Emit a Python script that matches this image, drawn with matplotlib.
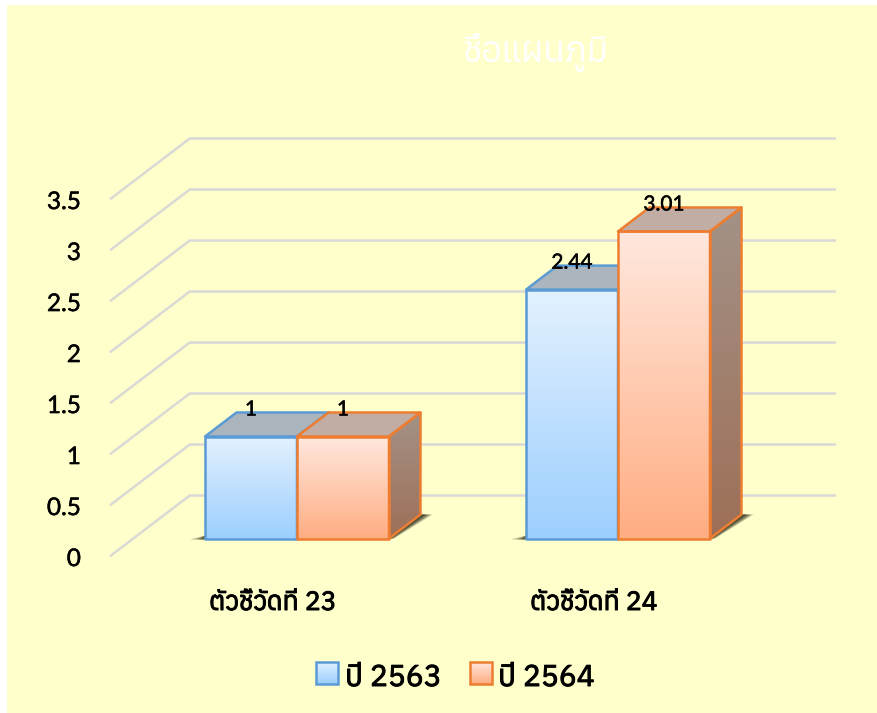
import numpy as np
import matplotlib
matplotlib.use('Agg')
import matplotlib.pyplot as plt
import matplotlib.patheffects as pe
from matplotlib import font_manager as fm
from matplotlib.colors import LinearSegmentedColormap
from matplotlib.patches import Polygon, Rectangle

# chart data
categories = ['ตัวชี้วัดที่ 23', 'ตัวชี้วัดที่ 24']
series_names = ['ปี 2563', 'ปี 2564']
values_2563 = [1, 2.44]
values_2564 = [1, 3.01]
value_ticks = [0, 0.5, 1, 1.5, 2, 2.5, 3, 3.5]
tick_labels = ['0', '0.5', '1', '1.5', '2', '2.5', '3', '3.5']
title_text = 'ชื่อแผนภูมิ'

W, H = 877, 713
PX_CAT = 321.0   # pixels per category
PX_VAL = 102.0   # pixels per unit of value
X0, Y0 = 297.0, 538.5  # pixel of first cluster centre / value 0
BAR_W = 92 / PX_CAT
DX, DY = 31.5 / PX_CAT, 24 / PX_VAL  # one unit of depth

# look for a font which has thai glyphs
thai_fonts = []
for f in fm.fontManager.ttflist:
    try:
        if 0x0E15 in fm.get_font(f.fname).get_charmap():
            thai_fonts.append(f.name)
    except Exception:
        pass
thai_fonts = sorted(set(thai_fonts))
plt.rcParams['font.family'] = thai_fonts[:1] + ['Lato', 'DejaVu Sans']

fig = plt.figure(figsize=(W / 100, H / 100), dpi=100, facecolor='white')
ax = fig.add_axes([0, 0, 1, 1])
ax.set_xlim(-X0 / PX_CAT, (W - X0) / PX_CAT)
ax.set_ylim((Y0 - H) / PX_VAL, Y0 / PX_VAL)
ax.axis('off')

# thicker strokes, the installed fonts have no bold for thai
heavy = [pe.withStroke(linewidth=0.7, foreground='black')]
light_heavy = [pe.withStroke(linewidth=0.35, foreground='black')]


def proj(c, v, d=0.0):
    return c + d * DX, v + d * DY


def px(x, y):
    # figure pixel (from top left) to data, only for chart furniture
    return (x - X0) / PX_CAT, (Y0 - y) / PX_VAL


def gradient_fill(points, top, bottom, zorder):
    cmap = LinearSegmentedColormap.from_list('g', [bottom, top])
    xs = [p[0] for p in points]
    ys = [p[1] for p in points]
    im = ax.imshow(np.linspace(0, 1, 128).reshape(-1, 1), cmap=cmap, origin='lower', aspect='auto',
                   extent=[min(xs), max(xs), min(ys), max(ys)], zorder=zorder, interpolation='bilinear')
    clip = Polygon(points, closed=True, transform=ax.transData, facecolor='none', edgecolor='none')
    im.set_clip_path(clip)


def draw_bar(left, value, edge, front_top, front_bottom, top_col, side_top, side_bottom, z):
    right = left + BAR_W
    # shadow on the floor
    for grow, alpha in [(1.0, 0.3), (0.8, 0.4), (0.6, 0.5), (0.4, 0.6)]:
        ax.add_patch(Polygon([proj(right, 0), proj(right, 0, 1), proj(right + grow * 12 / PX_CAT, 0, 1),
                              proj(right + grow * 5 / PX_CAT, 0)],
                             facecolor='#3f3f28', edgecolor='none', alpha=alpha, zorder=z))
    gradient_fill([(left, 0), (right, 0), (right, value), (left, value)], front_top, front_bottom, z + 0.1)
    side = [proj(right, 0), proj(right, 0, 1), proj(right, value, 1), proj(right, value)]
    gradient_fill(side, side_top, side_bottom, z + 0.1)
    top = [proj(left, value), proj(right, value), proj(right, value, 1), proj(left, value, 1)]
    ax.add_patch(Polygon(top, facecolor=top_col, edgecolor=edge, lw=1.8, joinstyle='round', zorder=z + 0.2))
    ax.add_patch(Polygon(side, facecolor='none', edgecolor=edge, lw=1.8, joinstyle='round', zorder=z + 0.2))
    ax.add_patch(Polygon([(left, 0), (right, 0), (right, value), (left, value)], facecolor='none',
                         edgecolor=edge, lw=1.8, joinstyle='round', zorder=z + 0.3))


# yellow chart area
x1, y1 = px(7, 5)
x2, y2 = px(877, 713)
ax.add_patch(Rectangle((x1, y2), x2 - x1, y1 - y2, facecolor='#FFFFCC', edgecolor='none', zorder=0))

ax.text(*px(536, 52), title_text, color='white', fontsize=25.5, ha='center', va='center',
        family=thai_fonts[:1] + ['Liberation Serif'], zorder=1)

# walls with gridlines and value axis labels
for v, lab in zip(value_ticks, tick_labels):
    gx = [proj(-0.51, v, -0.71)[0], proj(-0.51, v, 1.79)[0], proj(1.5, v, 1.79)[0]]
    gy = [proj(-0.51, v, -0.71)[1], proj(-0.51, v, 1.79)[1], proj(1.5, v, 1.79)[1]]
    ax.plot(gx, gy, color='#D9D9D5', lw=1.8, zorder=1, solid_joinstyle='miter')
    ax.annotate(lab, xy=(gx[0], gy[0]), xytext=(-30, -4), textcoords='offset pixels', ha='right', va='center',
                fontsize=17.5, family='Lato', color='black', zorder=5, path_effects=light_heavy)

blue = ('#5B9BD5', '#E3F1FF', '#9CCFFE', '#AAB5BE', '#A9B4BD', '#8FA5B5')
orange = ('#ED7D31', '#FFE8DE', '#FFAD82', '#C1ADA3', '#A39287', '#9E6F57')

z = 2
for i, name in enumerate(categories):
    for j, (vals, style) in enumerate(((values_2563, blue), (values_2564, orange))):
        left = i - BAR_W + j * BAR_W
        draw_bar(left, vals[i], *style, z)
        z += 1
    # shadow to the left of the cluster
    for grow, alpha in [(15, 0.35), (9, 0.45), (5, 0.5)]:
        ax.add_patch(Polygon([(i - BAR_W, -1 / PX_VAL), (i - BAR_W, 3 / PX_VAL), (i - BAR_W - grow / PX_CAT, -1 / PX_VAL)],
                             facecolor='#3f3f28', edgecolor='none', alpha=alpha, zorder=1.5))
    ax.text(i - 24 / PX_CAT, -64 / PX_VAL, name, ha='center', va='center', fontsize=19, zorder=20, path_effects=heavy)

# data labels sit above the middle of every bar
for i in range(len(categories)):
    for j, vals in enumerate((values_2563, values_2564)):
        cx = i - BAR_W + j * BAR_W + BAR_W / 2
        ax.annotate(f'{vals[i]:g}', xy=(cx, vals[i]), xytext=(0, 27), textcoords='offset pixels',
                    ha='center', va='center', fontsize=15, family='Lato', color='black', zorder=30,
                    path_effects=light_heavy)

# legend
for name, style, sx, tx in zip(series_names, (blue, orange), (316, 470), (345, 498)):
    a = px(sx, 684)
    b = px(sx + 22, 662)
    corners = [a, (b[0], a[1]), b, (a[0], b[1])]
    gradient_fill(corners, style[1], style[2], 20)
    ax.add_patch(Polygon(corners, facecolor='none', edgecolor=style[0], lw=1.8, zorder=21))
    ax.text(*px(tx, 678), name, ha='left', va='center', fontsize=21.5, zorder=21, path_effects=heavy)

# imshow changes the limits, put them back
ax.set_xlim(-X0 / PX_CAT, (W - X0) / PX_CAT)
ax.set_ylim((Y0 - H) / PX_VAL, Y0 / PX_VAL)
fig.savefig('out.png', dpi=100, facecolor='white')
